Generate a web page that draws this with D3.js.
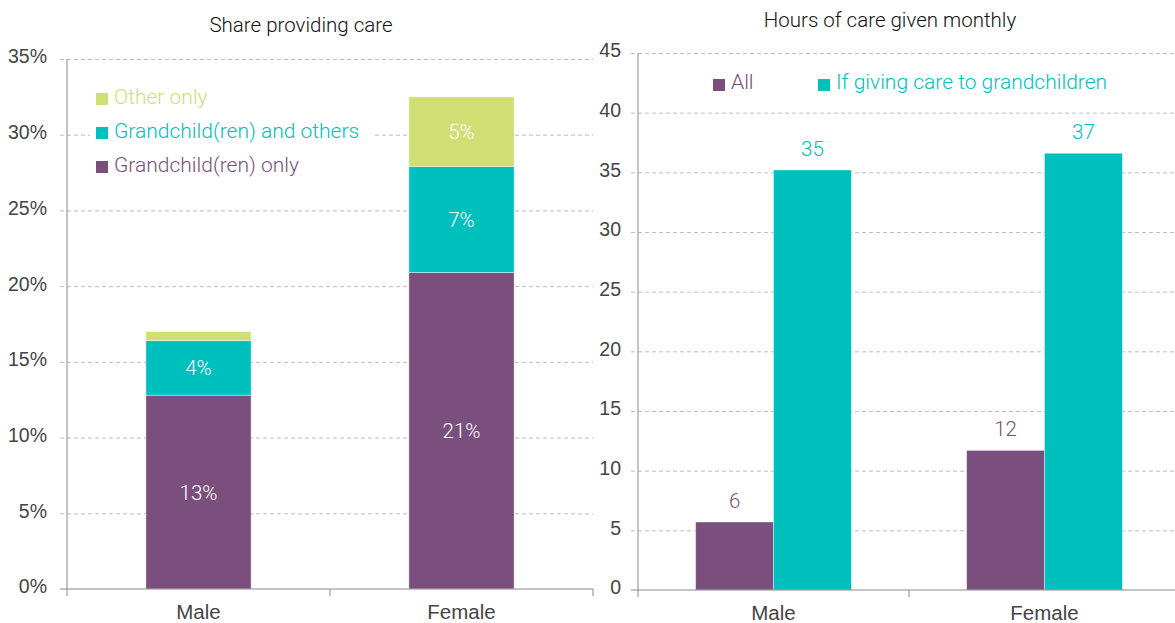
<!DOCTYPE html>
<html>
<head>
<meta charset="utf-8">
<script src="https://cdn.jsdelivr.net/npm/d3@7"></script>
<style>
  html, body { margin: 0; padding: 0; background: #fff; }
  svg { display: block; font-family: Roboto, "Liberation Sans", sans-serif; }
  .grid line { stroke: #bdbdbd; stroke-dasharray: 4 3; }
  .grid .domain { display: none; }
  .yax .domain, .xax .domain, .xax line { stroke: #8a8a8a; }
  .yax line { display: none; }
  .tick text { fill: #444; font-size: 19.5px; font-weight: 300; }
  .xax .tick text { font-size: 20.5px; }
  .title { font-size: 20.5px; font-weight: 300; fill: #111; }
</style>
</head>
<body>
<svg id="chart" width="1175" height="623"></svg>
<script>
// Categories
const genders = ["Male", "Female"];

// Left panel: share providing care, stacked (percent)
const shareSeries = ["Grandchild(ren) only", "Grandchild(ren) and others", "Other only"];
const grandchildOnly = [12.8, 20.9];
const grandchildAndOthers = [3.6, 7.0];
const otherOnly = [0.6, 4.6];
const shareTicks = [0, 5, 10, 15, 20, 25, 30, 35];

// Right panel: hours of care given monthly
const hoursSeries = ["All", "If giving care to grandchildren"];
const hoursAll = [5.7, 11.7];
const hoursGrandchildren = [35.2, 36.6];
const hoursTicks = [0, 5, 10, 15, 20, 25, 30, 35, 40, 45];

const PURPLE = "#7a4f7d", TEAL = "#00c0be", LIME = "#d1de74";
const svg = d3.select("#chart");

// ---------- Left panel ----------
{
  const x0 = 67, x1 = 593, yTop = 59, yBot = 589;
  const x = d3.scaleBand().domain(genders).range([x0, x1]).paddingInner(0.6).paddingOuter(0.3);
  const xb = d3.scaleBand().domain(genders).range([x0, x1]);
  const y = d3.scaleLinear().domain([0, 35]).range([yBot, yTop]);

  svg.append("g").attr("class", "grid")
    .attr("transform", `translate(${x0},0)`)
    .call(d3.axisLeft(y).tickValues(shareTicks.slice(1)).tickSize(-(x1 - x0)).tickFormat(""))
    .call(g => g.selectAll("line").attr("x1", -7));

  const stackData = genders.map((g, i) => {
    const vals = [grandchildOnly[i], grandchildAndOthers[i], otherOnly[i]];
    const o = { g };
    shareSeries.forEach((s, k) => o[s] = vals[k]);
    return o;
  });
  const stacked = d3.stack().keys(shareSeries)(stackData);
  const colors = [PURPLE, TEAL, LIME];

  stacked.forEach((layer, k) => {
    const gL = svg.append("g");
    gL.selectAll("rect").data(layer).join("rect")
      .attr("x", d => x(d.data.g))
      .attr("width", x.bandwidth())
      .attr("y", d => y(d[1]))
      .attr("height", d => y(d[0]) - y(d[1]))
      .attr("fill", colors[k])
      .attr("stroke", "rgba(255,255,255,0.5)").attr("stroke-width", 0.8);
    gL.selectAll("text").data(layer.filter(d => d[1] - d[0] >= 1)).join("text")
      .attr("x", d => x(d.data.g) + x.bandwidth() / 2)
      .attr("y", d => (y(d[0]) + y(d[1])) / 2 + 7.5)
      .attr("text-anchor", "middle")
      .attr("fill", "#fff")
      .attr("font-size", 20.5)
      .attr("font-weight", 300)
      .text(d => d3.format(".0f")(d[1] - d[0]) + "%");
  });

  svg.append("g").attr("class", "yax")
    .attr("transform", `translate(${x0},0)`)
    .call(d3.axisLeft(y).tickValues(shareTicks).tickFormat(d => d + "%").tickPadding(14))
    .call(g => g.selectAll(".tick text").attr("dy", "0.2em"))
    .call(g => g.select(".domain").attr("d", `M0,${yTop}V${yBot}`));

  svg.append("g").attr("class", "xax")
    .attr("transform", `translate(0,${yBot})`)
    .call(d3.axisBottom(xb).tickSize(0).tickPadding(15))
    .call(g => g.select(".domain").attr("d", `M${x0 - 7},0H${x1}`))
    .call(g => g.selectAll(".bnd").data([x0, xb.step() + x0, x1]).join("line")
      .attr("class", "bnd").attr("x1", d => d).attr("x2", d => d).attr("y1", 0).attr("y2", 7)
      .attr("stroke", "#8a8a8a"));

  svg.append("text").attr("class", "title").attr("x", 301).attr("y", 32)
    .attr("text-anchor", "middle").text("Share providing care");

  // legend sits on a white panel that hides the gridline behind it
  svg.append("rect").attr("x", 90).attr("y", 80).attr("width", 283).attr("height", 98).attr("fill", "#fff");
  const legend = [["Other only", LIME], ["Grandchild(ren) and others", TEAL], ["Grandchild(ren) only", PURPLE]];
  legend.forEach(([label, c], i) => {
    const cy = 99 + i * 34;
    svg.append("rect").attr("x", 96).attr("y", cy - 6).attr("width", 12).attr("height", 12).attr("fill", c);
    svg.append("text").attr("x", 114).attr("y", cy + 5).attr("fill", c)
      .attr("font-size", 21).attr("font-weight", 300).text(label);
  });
}

// ---------- Right panel ----------
{
  const x0 = 638, x1 = 1180, yTop = 53, yBot = 590;
  const x = d3.scaleBand().domain(genders).range([x0, x1]);
  const xs = d3.scaleBand().domain(hoursSeries).range([0, x.bandwidth()]).paddingOuter(0.74);
  const y = d3.scaleLinear().domain([0, 45]).range([yBot, yTop]);

  svg.append("g").attr("class", "grid")
    .attr("transform", `translate(${x0},0)`)
    .call(d3.axisLeft(y).tickValues(hoursTicks.slice(1)).tickSize(-(x1 - x0)).tickFormat(""))
    .call(g => g.selectAll("line").attr("x1", -7));

  const groups = genders.map((g, i) => ({ g, vals: [
    { s: hoursSeries[0], v: hoursAll[i], c: PURPLE },
    { s: hoursSeries[1], v: hoursGrandchildren[i], c: TEAL }
  ] }));

  const gg = svg.selectAll(".grp").data(groups).join("g")
    .attr("class", "grp").attr("transform", d => `translate(${x(d.g)},0)`);
  gg.selectAll("rect").data(d => d.vals).join("rect")
    .attr("x", d => xs(d.s)).attr("width", xs.bandwidth())
    .attr("y", d => y(d.v)).attr("height", d => yBot - y(d.v))
    .attr("fill", d => d.c)
    .attr("stroke", "rgba(255,255,255,0.5)").attr("stroke-width", 0.8);
  gg.selectAll("text").data(d => d.vals).join("text")
    .attr("x", d => xs(d.s) + xs.bandwidth() / 2)
    .attr("y", d => y(d.v) - 14)
    .attr("text-anchor", "middle").attr("fill", d => d.c)
    .attr("font-size", 20.5).attr("font-weight", 300)
    .text(d => d3.format(".0f")(d.v));

  svg.append("g").attr("class", "yax")
    .attr("transform", `translate(${x0},0)`)
    .call(d3.axisLeft(y).tickValues(hoursTicks).tickPadding(11))
    .call(g => g.selectAll(".tick text").attr("dy", "0.2em"))
    .call(g => g.select(".domain").attr("d", `M0,${yTop}V${yBot}`));

  svg.append("g").attr("class", "xax")
    .attr("transform", `translate(0,${yBot})`)
    .call(d3.axisBottom(x).tickSize(0).tickPadding(15))
    .call(g => g.select(".domain").attr("d", `M${x0 - 7},0H${x1}`))
    .call(g => g.selectAll(".bnd").data([x0, x0 + x.step()]).join("line")
      .attr("class", "bnd").attr("x1", d => d).attr("x2", d => d).attr("y1", 0).attr("y2", 7)
      .attr("stroke", "#8a8a8a"));

  svg.append("text").attr("class", "title").attr("x", 890).attr("y", 27)
    .attr("text-anchor", "middle").text("Hours of care given monthly");

  const legend = [["All", PURPLE, 713], ["If giving care to grandchildren", TEAL, 818]];
  legend.forEach(([label, c, lx]) => {
    svg.append("rect").attr("x", lx).attr("y", 79).attr("width", 12).attr("height", 12).attr("fill", c);
    svg.append("text").attr("x", lx + 18).attr("y", 89).attr("fill", c)
      .attr("font-size", 21).attr("font-weight", 300).text(label);
  });
}
</script>
</body>
</html>
